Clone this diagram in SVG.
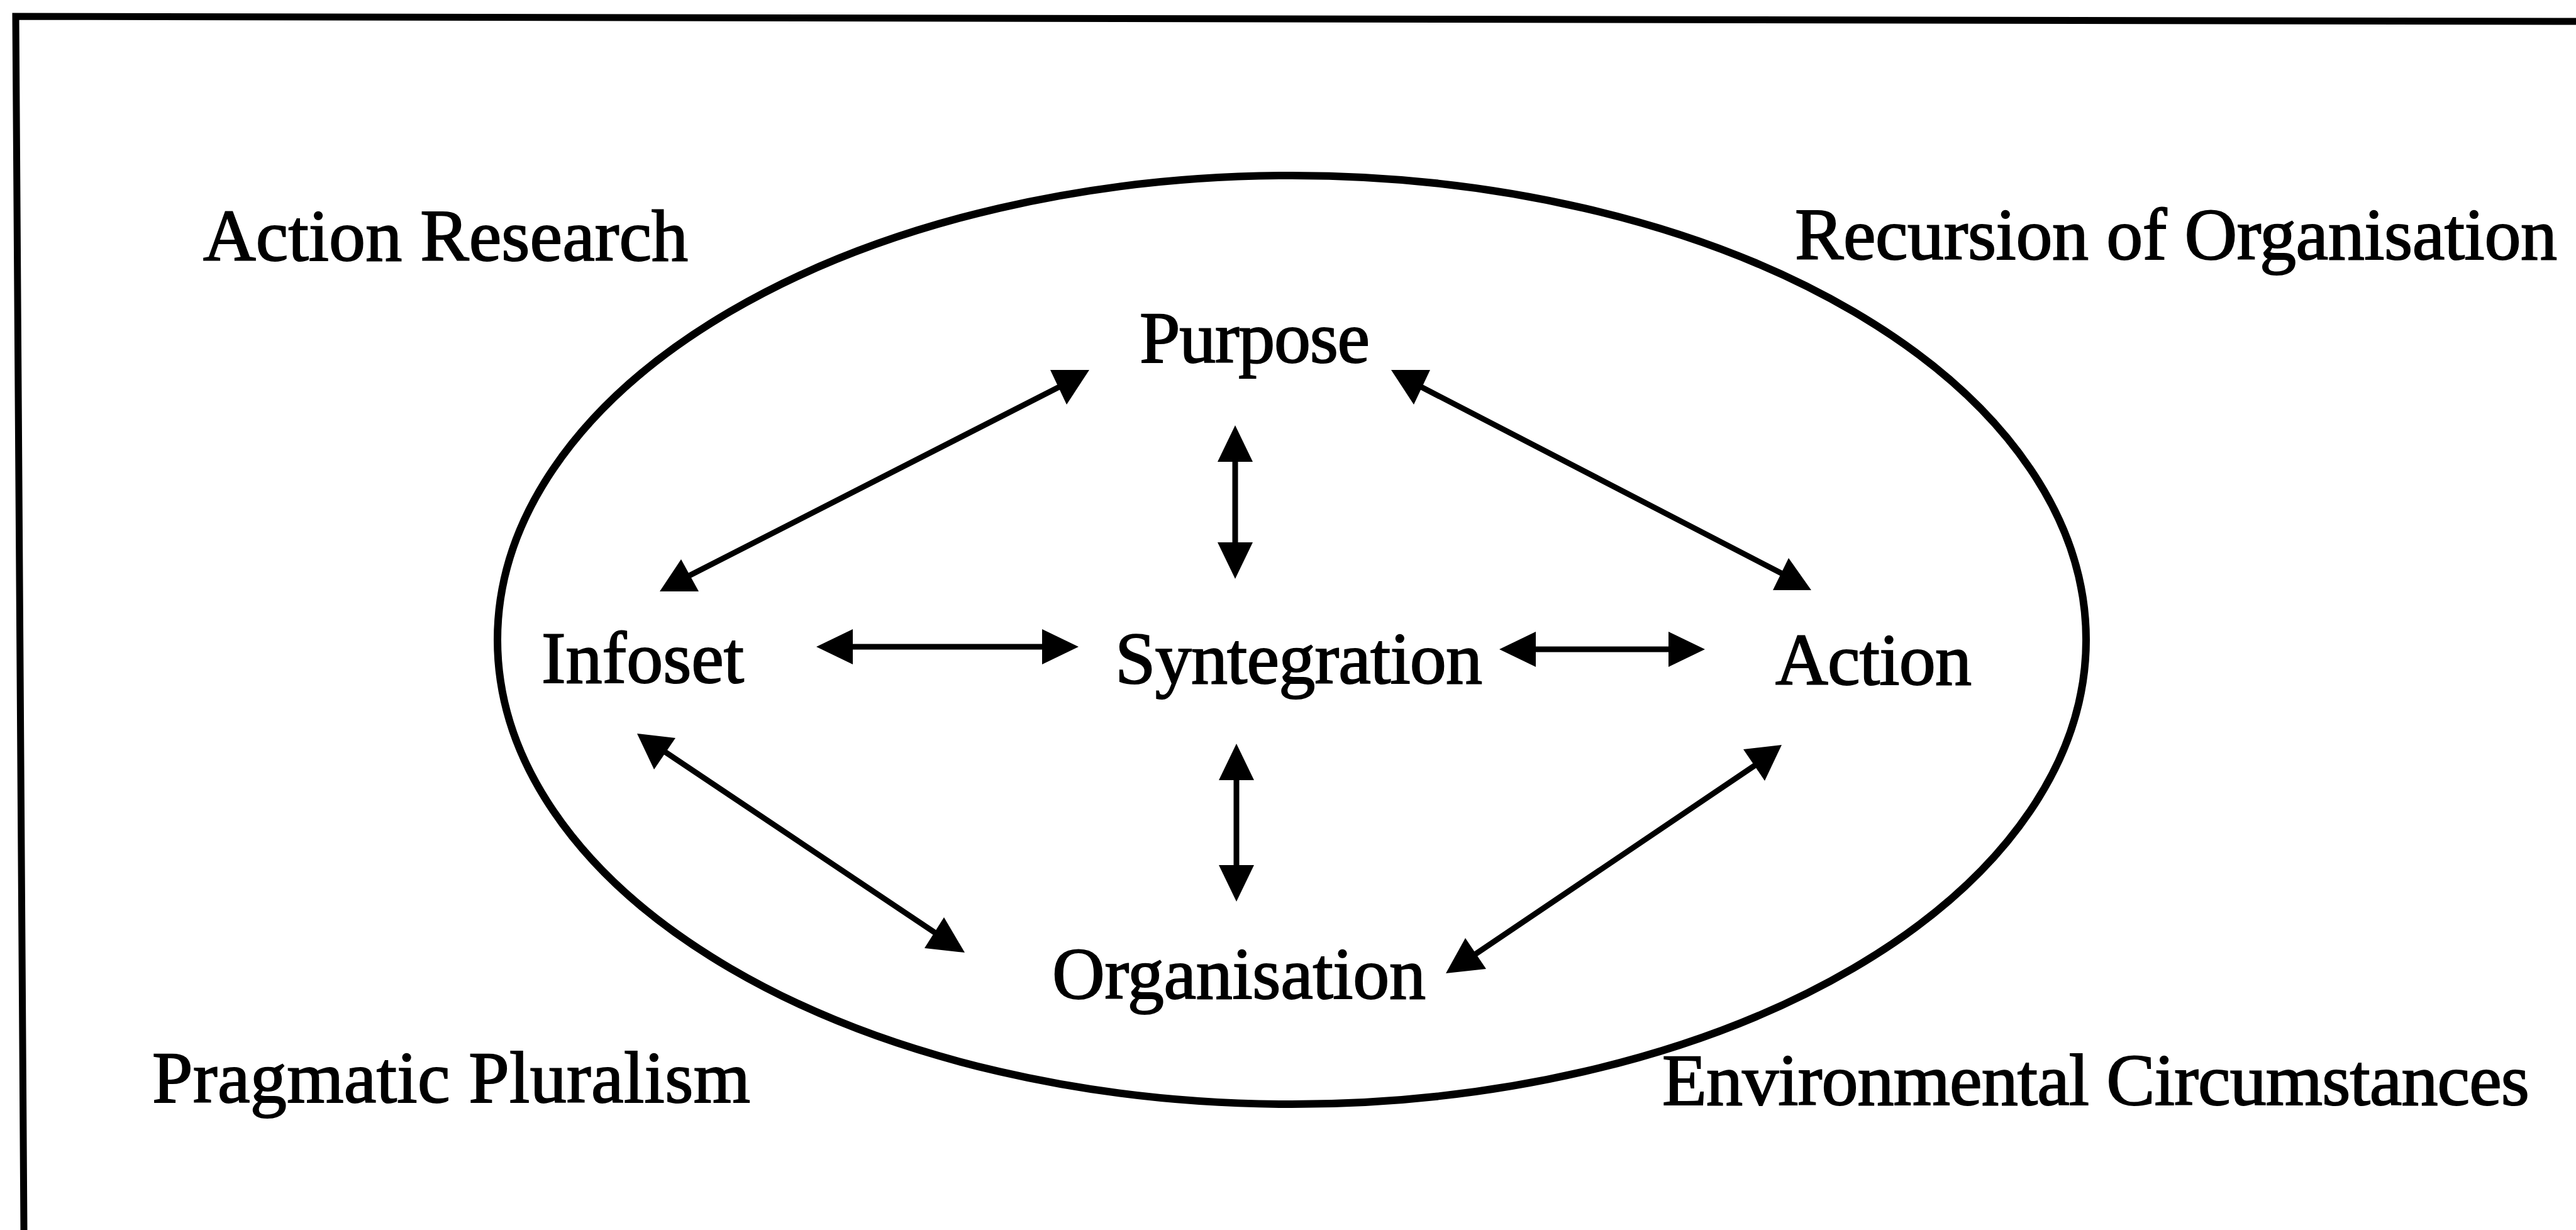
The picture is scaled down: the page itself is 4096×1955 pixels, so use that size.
<svg xmlns="http://www.w3.org/2000/svg" width="4096" height="1955" viewBox="0 0 4096 1955">
  <style>
    .bg { fill: #ffffff; }
    .frame { fill: none; stroke: #000; stroke-width: 11; stroke-linejoin: miter; }
    .boundary { fill: none; stroke: #000; stroke-width: 12; }
    .label { font-family: "Liberation Serif", "Times New Roman", serif; font-size: 116px; fill: #000; stroke: #000; stroke-width: 2; }
    .link { fill: none; stroke: #000; stroke-width: 9; }
    .head { fill: #000; stroke: none; }
  </style>
  <defs>
    <marker id="arrow" viewBox="0 0 58 56" markerUnits="userSpaceOnUse" markerWidth="58" markerHeight="56" refX="28" refY="28" orient="auto-start-reverse">
      <path d="M0,0 L58,28 L0,56 z" fill="#000"/>
    </marker>
  </defs>

  <rect class="bg" x="0" y="0" width="4096" height="1955"/>

  <!-- open frame: top and left edges only -->
  <path class="frame" d="M4096,34 L25,26 L38,1955"/>

  <!-- system boundary -->
  <ellipse id="boundary" class="boundary" cx="2054" cy="1017" rx="1263" ry="738"/>

  <!-- connectors -->
  <g id="connectors">
    <!-- straight links with standard heads -->
    <line class="link" x1="1964" y1="706" x2="1964" y2="890" marker-start="url(#arrow)" marker-end="url(#arrow)"/>
    <line class="link" x1="1966" y1="1212" x2="1966" y2="1403" marker-start="url(#arrow)" marker-end="url(#arrow)"/>
    <line class="link" x1="1328" y1="1028" x2="1685" y2="1028" marker-start="url(#arrow)" marker-end="url(#arrow)"/>
    <line class="link" x1="2414" y1="1032" x2="2681" y2="1032" marker-start="url(#arrow)" marker-end="url(#arrow)"/>

    <!-- Infoset <-> Purpose -->
    <line class="link" x1="1090" y1="918" x2="1690" y2="612"/>
    <polygon class="head" points="1049,940 1111,940 1083,889"/>
    <polygon class="head" points="1670,588 1732,588 1696,643"/>

    <!-- Purpose <-> Action -->
    <line class="link" x1="2254" y1="612" x2="2838" y2="914"/>
    <polygon class="head" points="2212,588 2274,588 2248,643"/>
    <polygon class="head" points="2819,938 2880,938 2844,887"/>

    <!-- Infoset <-> Organisation -->
    <line class="link" x1="1035" y1="1180" x2="1492" y2="1486"/>
    <polygon class="head" points="1013,1166 1074,1173 1040,1223"/>
    <polygon class="head" points="1470,1507 1534,1514 1501,1458"/>

    <!-- Action <-> Organisation -->
    <line class="link" x1="2332" y1="1526" x2="2806" y2="1206"/>
    <polygon class="head" points="2772,1191 2833,1184 2806,1241"/>
    <polygon class="head" points="2299,1547 2363,1540 2330,1491"/>
  </g>

  <!-- inner nodes -->
  <g id="node-purpose"><text class="label" x="1812" y="576" textLength="366">Purpose</text></g>
  <g id="node-infoset"><text class="label" x="861" y="1085" textLength="322">Infoset</text></g>
  <g id="node-syntegration"><text class="label" x="1773" y="1086" textLength="584">Syntegration</text></g>
  <g id="node-action"><text class="label" x="2823" y="1088" textLength="312">Action</text></g>
  <g id="node-organisation"><text class="label" x="1673" y="1587" textLength="594">Organisation</text></g>

  <!-- surrounding themes -->
  <g id="theme-action-research"><text class="label" x="323" y="414" textLength="771">Action Research</text></g>
  <g id="theme-recursion"><text class="label" x="2854" y="412" textLength="1212">Recursion of Organisation</text></g>
  <g id="theme-pluralism"><text class="label" x="242" y="1752" textLength="951">Pragmatic Pluralism</text></g>
  <g id="theme-environment"><text class="label" x="2643" y="1756" textLength="1379">Environmental Circumstances</text></g>
</svg>
